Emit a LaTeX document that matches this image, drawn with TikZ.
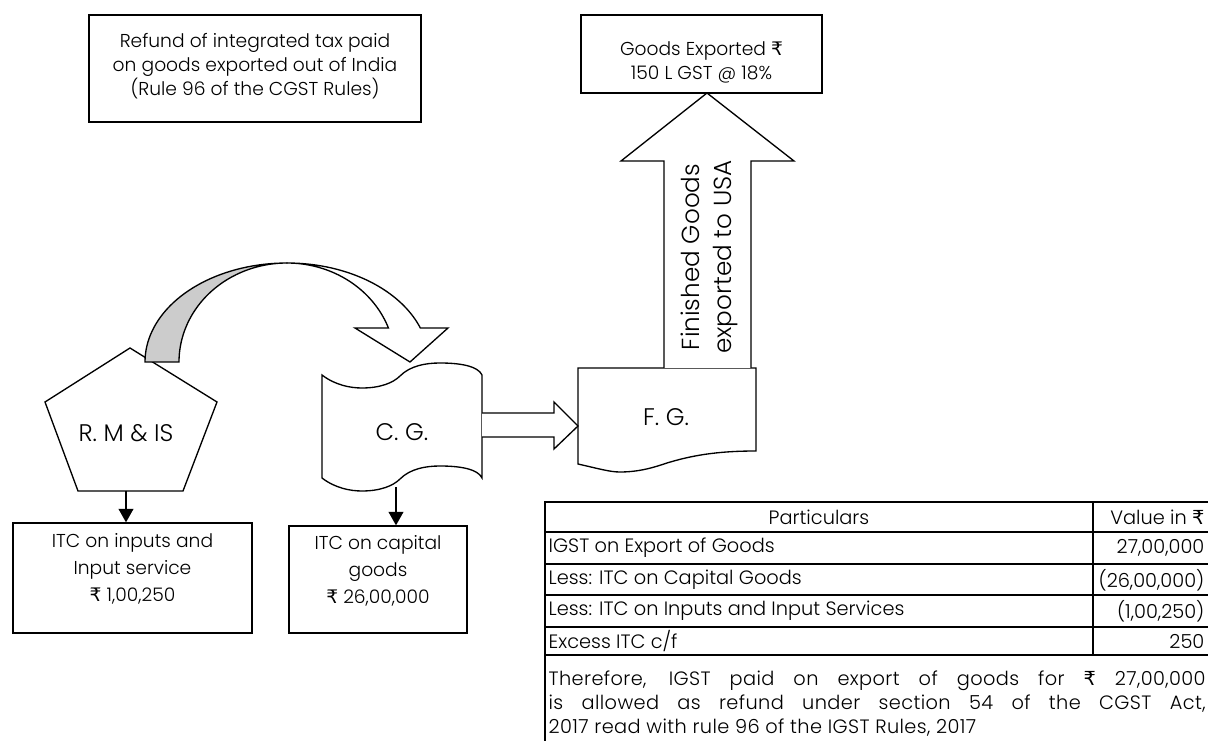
\documentclass[tikz,border=0pt]{standalone}
\usepackage{fontspec}
\setmainfont{Poppins}[UprightFont=* Light]
\newfontfamily\rupeefont{DejaVu Sans}
\newcommand{\rupee}{{\rupeefont ₹}}
\usetikzlibrary{arrows.meta, positioning, calc}

\begin{document}
\begin{tikzpicture}[x=0.75pt, y=-0.75pt, line width=1pt,
    font=\fontsize{14}{18}\selectfont,
    box/.style={draw, inner sep=0pt},
    txt/.style={align=center, inner sep=0pt},
    big/.style={txt, font=\fontsize{18}{22}\selectfont},
    cell/.style={inner sep=0pt, font=\fontsize{14.5}{18}\selectfont},
    blk/.style={draw, fill=white, line join=miter},
    arr/.style={-{Triangle[width=11pt,length=10pt]}}]
    % Frame
    \useasboundingbox (0,0) rectangle (1208,741);

    % Title and export boxes
    \node[box, minimum width=249pt, minimum height=80.25pt] (rule) at (255,68.5) {};
    \node[txt] (ruletxt) at (255,66) {Refund of integrated tax paid\\on goods exported out of India\\(Rule 96 of the CGST Rules)};
    \node[box, minimum width=180.75pt, minimum height=58.5pt] (exp) at (701.5,54) {};
    \node[txt] (exptxt) at (701.5,62) {Goods Exported \rupee\\150 L GST @ 18\%};

    % Raw material pentagon
    \draw[blk] (130,348) -- (217,402) -- (183,491) -- (78,491) -- (45,402) -- cycle;
    \node[big] (rm) at (126,433) {R. M \& IS};
    \coordinate (rmb) at (126,491);

    % Capital goods tape
    \draw[blk] (322,375) .. controls (335,385) and (350,388) .. (362,388)
        .. controls (380,388) and (393,383) .. (400,376)
        .. controls (410,366) and (425,363) .. (440,363)
        .. controls (460,363) and (478,366) .. (482,375) -- (482,478)
        .. controls (478,469) and (460,466) .. (440,466)
        .. controls (425,466) and (410,469) .. (400,479)
        .. controls (393,486) and (380,491) .. (362,491)
        .. controls (350,491) and (335,488) .. (322,478) -- cycle;
    \node[big] (cg) at (402,432) {C. G.};
    \coordinate (cgb) at (396,487);

    % Finished goods document
    \draw[blk] (578,368) -- (756,368) -- (756,451)
        .. controls (715,451) and (690,456) .. (667,463)
        .. controls (655,467) and (640,472) .. (620,472)
        .. controls (610,472) and (600,469) .. (578,464) -- cycle;
    \node[big] (fg) at (666,417) {F. G.};

    % Curved arrow (back face shaded)
    \draw[blk, fill=black!20] plot[domain=180:90, samples=40] ({287+142*cos(\x)},{362-99*sin(\x)})
        -- plot[domain=90:180, samples=40] ({287+108*cos(\x)},{362-99*sin(\x)}) -- cycle;
    \draw[blk] plot[domain=90:20.1, samples=40] ({287+142*cos(\x)},{362-99*sin(\x)})
        -- (448,328) -- (410,362) -- (355,328)
        -- plot[domain=20.1:90, samples=40] ({287+108*cos(\x)},{362-99*sin(\x)}) -- cycle;

    % Block arrows
    \draw[blk] (482,413) -- (554,413) -- (554,402) -- (578,426) -- (554,449) -- (554,437) -- (482,437);
    \draw[blk] (664,368) -- (664,161) -- (621,161) -- (707,93) -- (794,161) -- (751,161) -- (751,368);
    \node[txt, rotate=90, font=\fontsize{18.5}{24}\selectfont] (usa) at (709,257) {Finished Goods\\exported to USA};

    % ITC boxes
    \node[box, minimum width=179.25pt, minimum height=82.5pt] (itc1) at (132.5,578) {};
    \node[txt, font=\fontsize{14}{20}\selectfont] (itc1txt) at (132.5,569) {ITC on inputs and\\Input service\\\rupee\ 1,00,250};
    \node[box, minimum width=133.5pt, minimum height=80.25pt] (itc2) at (378,579.5) {};
    \node[txt, font=\fontsize{14}{20}\selectfont] (itc2txt) at (378,571) {ITC on capital\\goods\\\rupee\ 26,00,000};
    \draw[arr] (rmb) -- (rmb |- itc1.north);
    \draw[arr] (cgb) -- (cgb |- itc2.north);

    % Table
    \draw (545,745) -- (545,502) -- (1212,502);
    \foreach \yy in {532,564,595,627,655}
        \draw (545,\yy) -- (1212,\yy);
    \draw (1093,502) -- (1093,655);
    \node[cell] (hd1) at (819,517) {Particulars};
    \node[cell, anchor=east] (hd2) at (1205,517) {Value in \rupee};
    \foreach \yy/\pp/\vv in {548/{IGST on Export of Goods}/{27,00,000},
        580/{Less: ITC on Capital Goods}/{(26,00,000)},
        611/{Less: ITC on Inputs and Input Services}/{(1,00,250)},
        641/{Excess ITC c/f}/{250}} {
        \node[cell, anchor=west] (p\yy) at (548,\yy) {\pp};
        \node[cell, anchor=east] (v\yy) at (1205,\yy) {\vv};
    }
    \node[cell, anchor=north west, text width=492.75pt, align=justify] (note) at (548,670)
        {\addfontfeature{LetterSpace=2}Therefore, IGST paid on export of goods for \rupee\ 27,00,000\linebreak is allowed as refund under section 54 of the CGST Act,\linebreak 2017 read with rule 96 of the IGST Rules, 2017};
\end{tikzpicture}
\end{document}
